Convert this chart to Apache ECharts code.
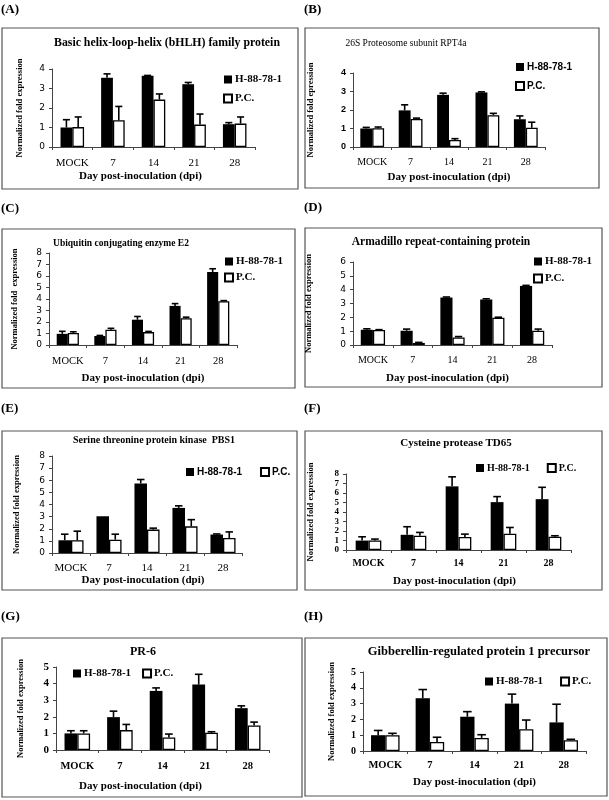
<!DOCTYPE html>
<html><head><meta charset="utf-8">
<script src="https://cdn.jsdelivr.net/npm/echarts@6/dist/echarts.min.js"></script>
<style>html,body{margin:0;padding:0;background:#fff}#c{width:609px;height:800px}</style>
</head><body><div id="c"></div>
<script>
// ---------- data ----------
const categories = ['MOCK', '7', '14', '21', '28'];
const seriesNames = ['H-88-78-1', 'P.C.'];
const panelLabels = ['(A)', '(B)', '(C)', '(D)', '(E)', '(F)', '(G)', '(H)'];
const panelTitles = [
  'Basic helix-loop-helix (bHLH) family protein',
  '26S Proteosome subunit RPT4a',
  'Ubiquitin conjugating enzyme E2',
  'Armadillo repeat-containing protein',
  'Serine threonine protein kinase  PBS1',
  'Cysteine protease TD65',
  'PR-6',
  'Gibberellin-regulated protein 1 precursor'
];
const yNames = [
  'Normalized fold expression', 'Normalized fold epression', 'Normalized fold  expression',
  'Normalized fold expression', 'Normalized fold expression', 'Normalized fold expression',
  'Normalized fold expression', 'Normalized fold expression'
];
const xName = 'Day post-inoculation (dpi)';
const yMaxes = [4, 4, 8, 6, 8, 8, 5, 5];

// (A)
const aH88 = [1.0, 3.55, 3.65, 3.22, 1.17];
const aH88Err = [0.4, 0.2, 0.02, 0.09, 0.08];
const aPC = [1.02, 1.37, 2.43, 1.15, 1.2];
const aPCErr = [0.52, 0.71, 0.29, 0.54, 0.34];
// (B)
const bH88 = [1.0, 1.98, 2.82, 2.95, 1.5];
const bH88Err = [0.06, 0.3, 0.09, 0.03, 0.18];
const bPC = [1.02, 1.52, 0.38, 1.72, 1.04];
const bPCErr = [0.06, 0.04, 0.07, 0.1, 0.3];
// (C)
const cH88 = [0.97, 0.78, 2.2, 3.4, 6.35];
const cH88Err = [0.22, 0.05, 0.28, 0.2, 0.28];
const cPC = [1.05, 1.33, 1.12, 2.32, 3.8];
const cPCErr = [0.1, 0.12, 0.06, 0.1, 0.06];
// (D)
const dH88 = [1.1, 1.03, 3.43, 3.29, 4.27];
const dH88Err = [0.07, 0.12, 0.04, 0.05, 0.04];
const dPC = [1.08, 0.15, 0.55, 1.97, 1.03];
const dPCErr = [0.03, 0.04, 0.06, 0.04, 0.12];
// (E)
const eH88 = [1.05, 3.03, 5.74, 3.72, 1.52];
const eH88Err = [0.5, 0.0, 0.32, 0.17, 0.05];
const ePC = [1.05, 1.1, 1.93, 2.2, 1.24];
const ePCErr = [0.75, 0.45, 0.12, 0.55, 0.5];
// (F)
const fH88 = [0.99, 1.6, 6.7, 5.04, 5.35];
const fH88Err = [0.4, 0.85, 1.0, 0.58, 1.25];
const fPC = [1.0, 1.5, 1.37, 1.72, 1.4];
const fPCErr = [0.15, 0.35, 0.3, 0.65, 0.1];
// (G)
const gH88 = [1.0, 1.98, 3.56, 3.94, 2.52];
const gH88Err = [0.16, 0.36, 0.18, 0.62, 0.14];
const gPC = [1.0, 1.2, 0.76, 1.04, 1.48];
const gPCErr = [0.16, 0.34, 0.2, 0.06, 0.2];
// (H)
const hH88 = [1.0, 3.34, 2.17, 3.0, 1.81];
const hH88Err = [0.3, 0.55, 0.32, 0.6, 1.15];
const hPC = [1.0, 0.57, 0.83, 1.38, 0.68];
const hPCErr = [0.12, 0.3, 0.2, 0.58, 0.06];

const panelData = [
  [aH88, aH88Err, aPC, aPCErr], [bH88, bH88Err, bPC, bPCErr],
  [cH88, cH88Err, cPC, cPCErr], [dH88, dH88Err, dPC, dPCErr],
  [eH88, eH88Err, ePC, ePCErr], [fH88, fH88Err, fPC, fPCErr],
  [gH88, gH88Err, gPC, gPCErr], [hH88, hH88Err, hPC, hPCErr]
];

// ---------- layout / style ----------
const SERIF = '"Liberation Serif", "Times New Roman", serif';
const SANS = '"Liberation Sans", Arial, sans-serif';
const VSANS = '"DejaVu Sans", Verdana, sans-serif';

const layout = [
  {box:[2,28,296,161], lab:[1,10], grid:[52,69,203,78], gap:0.42, title:[167,43,11.8,'bold'],
   yLab:[VSANS,9,'normal'], xLab:[SERIF,11,'normal',11], xNameGap:24, xNameShift:13, yNameGap:28,
   leg:{orient:'vertical', left:223, top:74, gap:8, font:SERIF, size:11}},
  {box:[305,28,294,160], lab:[304,10], grid:[353,73,192,74], gap:0.38, title:[406,43,9.5,'normal'],
   yLab:[SANS,9,'bold'], xLab:[SERIF,10,'normal',10], xNameGap:25, xNameShift:0, yNameGap:38,
   leg:{orient:'vertical', left:515, top:62, gap:9, font:SANS, size:10}},
  {box:[2,229,293,159], lab:[1,209], grid:[49,253,188,92], gap:0.41, title:[121,244,9.5,'bold'],
   yLab:[VSANS,9,'normal'], xLab:[SERIF,10.5,'normal',11], xNameGap:28, xNameShift:0, yNameGap:30,
   leg:{orient:'vertical', left:224, top:256, gap:5, font:SERIF, size:11}},
  {box:[305,228,297,159], lab:[304,208], grid:[353,262,199,83], gap:0.39, title:[441,242,11.5,'bold'],
   yLab:[VSANS,9,'normal'], xLab:[SERIF,10,'normal',10], xNameGap:28, xNameShift:5, yNameGap:40,
   leg:{orient:'vertical', left:533, top:256, gap:6, font:SERIF, size:11}},
  {box:[2,431,295,159], lab:[1,409], grid:[52,456,190,97], gap:0.34, title:[154,440,10,'bold'],
   yLab:[VSANS,9,'normal'], xLab:[SERIF,11,'normal',10], xNameGap:22, xNameShift:4, yNameGap:31,
   leg:{orient:'horizontal', left:186, top:467, gap:18, font:SANS, size:10}},
  {box:[305,431,297,159], lab:[304,409], grid:[346,474,225,76], gap:0.43, title:[456,443,11,'bold'],
   yLab:[SERIF,9,'bold'], xLab:[SERIF,10,'bold',8], xNameGap:26, xNameShift:4, yNameGap:31,
   leg:{orient:'horizontal', left:476, top:463, gap:17, font:SERIF, size:10}},
  {box:[2,638,300,159], lab:[1,617], grid:[56,667,213,83], gap:0.40, title:[143,652,12,'bold'],
   yLab:[SERIF,11,'bold'], xLab:[SERIF,10.5,'bold',11], xNameGap:31, xNameShift:22, yNameGap:31,
   leg:{orient:'horizontal', left:73, top:668, gap:11, font:SERIF, size:11}},
  {box:[305,638,302,158], lab:[304,617], grid:[363,672,223,79], gap:0.36, title:[479,652,12.5,'bold'],
   yLab:[SERIF,10,'bold'], xLab:[SERIF,10.5,'bold',9], xNameGap:26, xNameShift:0, yNameGap:27,
   leg:{orient:'horizontal', left:485, top:676, gap:17, font:SERIF, size:11}}
];

function errRender(gapFrac, side) {
  return function (params, api) {
    const i = api.value(0), v = api.value(1), e = api.value(2);
    if (!(e > 0)) return null;
    const p0 = api.coord([i, v]);
    const p1 = api.coord([i, v + e]);
    const band = api.size([1, 0])[0];
    const bw = band * (1 - gapFrac) / 2;
    const cx = p0[0] + side * bw / 2;
    const cap = bw * 0.6;
    const st = { stroke: '#000', lineWidth: 1.6 };
    return { type: 'group', children: [
      { type: 'line', shape: { x1: cx, y1: p0[1], x2: cx, y2: p1[1] }, style: st },
      { type: 'line', shape: { x1: cx - cap / 2, y1: p1[1], x2: cx + cap / 2, y2: p1[1] }, style: st }
    ]};
  };
}

const option = { animation: false, backgroundColor: '#fff', grid: [], xAxis: [], yAxis: [],
  series: [], title: [], legend: [], graphic: [] };

layout.forEach((L, k) => {
  const [h, hErr, pc, pcErr] = panelData[k];
  option.grid.push({ left: L.grid[0], top: L.grid[1], width: L.grid[2], height: L.grid[3], containLabel: false });
  option.xAxis.push({
    type: 'category', gridIndex: k, data: categories,
    axisLine: { lineStyle: { color: '#444', width: 1 } },
    axisTick: { show: true, length: 3, lineStyle: { color: '#444' } },
    axisLabel: { interval: 0, hideOverlap: false, margin: L.xLab[3], fontFamily: L.xLab[0], fontSize: L.xLab[1], fontWeight: L.xLab[2], color: '#000' },
    name: xName, nameLocation: 'middle', nameGap: L.xNameGap,
    nameTextStyle: { fontFamily: SERIF, fontSize: 11, fontWeight: 'bold', color: '#000',
      padding: [0, 2 * L.xNameShift, 0, 0] }
  });
  option.yAxis.push({
    type: 'value', gridIndex: k, min: 0, max: yMaxes[k], interval: 1,
    splitLine: { show: false },
    axisLine: { show: true, lineStyle: { color: '#444', width: 1 } },
    axisTick: { show: true, length: 3, lineStyle: { color: '#444' } },
    axisLabel: { margin: 7, fontFamily: L.yLab[0], fontSize: L.yLab[1], fontWeight: L.yLab[2], color: '#000' },
    name: yNames[k], nameLocation: 'middle', nameRotate: 90, nameGap: L.yNameGap,
    nameTextStyle: { fontFamily: SERIF, fontSize: 8.5, fontWeight: 'bold', color: '#000' }
  });
  const gapPct = Math.round(L.gap * 100) + '%';
  option.series.push({
    type: 'bar', name: seriesNames[0], xAxisIndex: k, yAxisIndex: k, data: h,
    barGap: '0%', barCategoryGap: gapPct, itemStyle: { color: '#000' }
  });
  option.series.push({
    type: 'bar', name: seriesNames[1], xAxisIndex: k, yAxisIndex: k, data: pc,
    barGap: '0%', barCategoryGap: gapPct,
    itemStyle: { color: '#fff', borderColor: '#000', borderWidth: 1.3 }
  });
  option.series.push({
    type: 'custom', name: 'err-h-' + k, xAxisIndex: k, yAxisIndex: k, z: 5,
    renderItem: errRender(L.gap, -1), encode: { x: 0, y: 1 },
    data: h.map((v, i) => [i, v, hErr[i]])
  });
  option.series.push({
    type: 'custom', name: 'err-pc-' + k, xAxisIndex: k, yAxisIndex: k, z: 5,
    renderItem: errRender(L.gap, 1), encode: { x: 0, y: 1 },
    data: pc.map((v, i) => [i, v, pcErr[i]])
  });
  option.title.push({
    text: panelTitles[k], left: L.title[0], top: L.title[1], padding: 0,
    textAlign: 'center', textVerticalAlign: 'middle',
    textStyle: { fontFamily: SERIF, fontSize: L.title[2], fontWeight: L.title[3], color: '#000' }
  });
  option.legend.push({
    data: seriesNames, orient: L.leg.orient, left: L.leg.left, top: L.leg.top,
    itemGap: L.leg.gap, itemWidth: 8, itemHeight: 8, icon: 'rect', padding: 0,
    selectedMode: false,
    textStyle: { fontFamily: L.leg.font, fontSize: L.leg.size, fontWeight: 'bold', color: '#000', padding: [0, 0, 0, -2] }
  });
  option.graphic.push({
    type: 'rect', shape: { x: L.box[0], y: L.box[1], width: L.box[2], height: L.box[3] },
    style: { fill: 'none', stroke: '#555', lineWidth: 1.2 }, silent: true, z: -1
  });
  option.graphic.push({
    type: 'text', x: L.lab[0], y: L.lab[1],
    style: { text: panelLabels[k], fontFamily: SERIF, fontSize: 13, fontWeight: 'bold', fill: '#000',
      textAlign: 'left', textVerticalAlign: 'middle' }
  });
});

const chart = echarts.init(document.getElementById('c'), null, { renderer: 'canvas' });
chart.setOption(option);
</script>
</body></html>
